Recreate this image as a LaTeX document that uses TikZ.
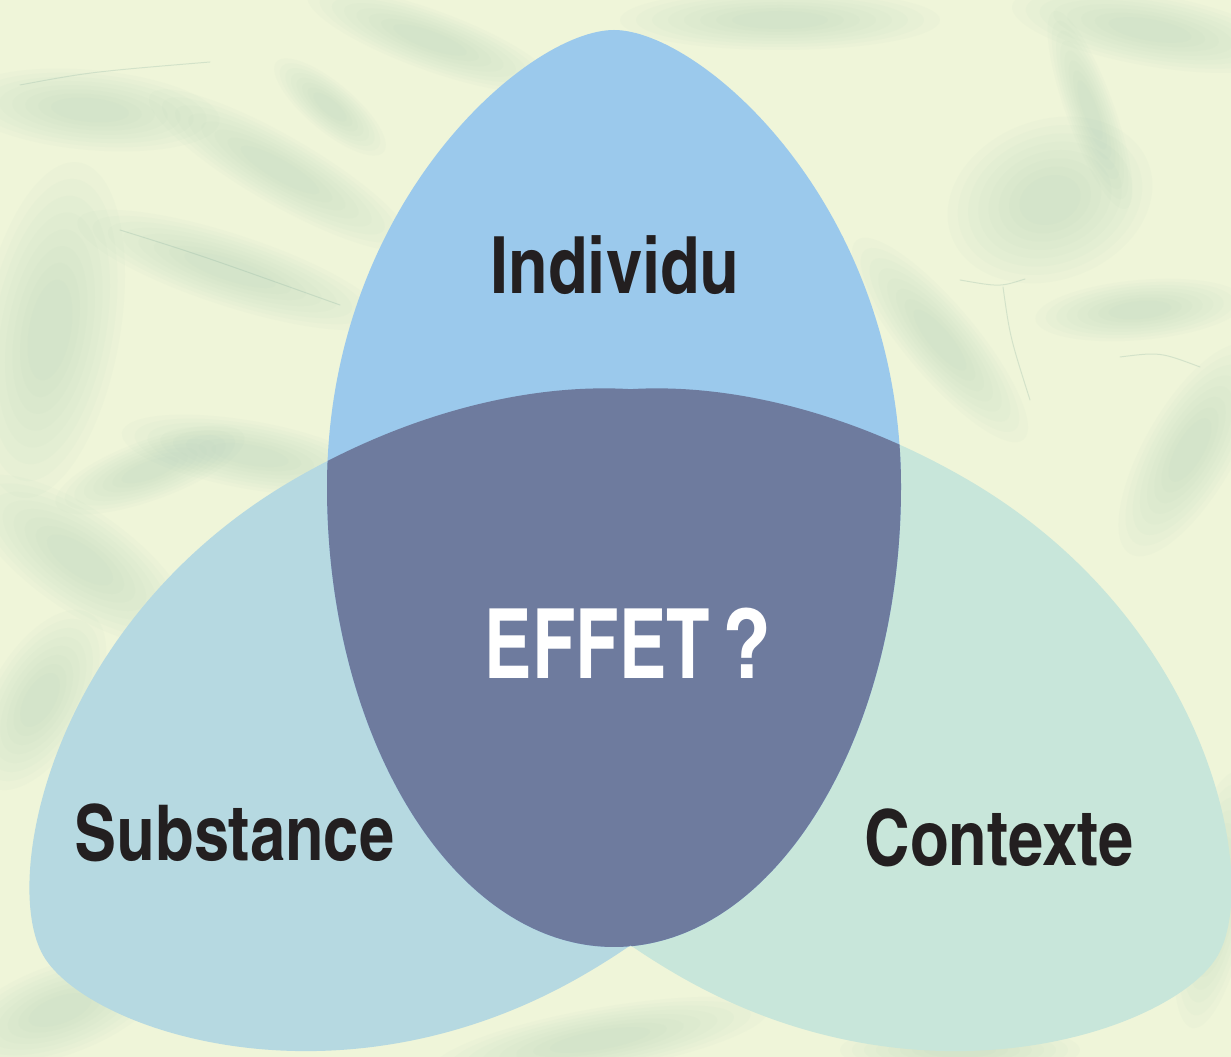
\documentclass[tikz,border=0pt]{standalone}
\usepackage{graphicx}
\usepackage{fontspec}
\setmainfont{texgyreheroscn}[Extension=.otf, UprightFont=*-regular, BoldFont=*-bold]
\definecolor{paper}{HTML}{EFF5D9}
\definecolor{crease}{HTML}{A9CBB8}
\definecolor{creaseline}{HTML}{8DB3A2}
\definecolor{topcol}{HTML}{9BC9EC}
\definecolor{leftcol}{HTML}{B6D9E1}
\definecolor{rightcol}{HTML}{C8E6DA}
\definecolor{midcol}{HTML}{6E7B9E}
\definecolor{inkcol}{HTML}{231F20}
\tikzset{
  lbl/.style={inner sep=0pt, anchor=base, text=inkcol, font=\bfseries\fontsize{79}{79}\selectfont},
  foldline/.style={draw=creaseline, line width=1pt, draw opacity=0.28, line cap=round}
}
\newcommand\softblob[5]{%
  \begin{scope}[shift={(#1,#2)}, rotate=#3]
    \foreach \s in {1,0.9,0.8,0.7,0.6,0.5,0.4,0.3}{\fill[crease, fill opacity=0.05] (0,0) ellipse ({#4*\s} and {#5*\s});}
  \end{scope}}
\def\eggpath{(287,0) .. controls (287,-254) and (158.5,-460) .. (0,-460) .. controls (-158.5,-460) and (-287,-254) .. (-287,0) .. controls (-287,283) and (-86,457) .. (0,457) .. controls (86,457) and (287,283) .. (287,0) -- cycle}
\begin{document}
\begin{tikzpicture}[x=1pt,y=1pt]
\useasboundingbox (0,0) rectangle (1231,1057);
\fill[paper] (0,0) rectangle (1231,1057);
% crumpled paper texture
\softblob{280}{887}{-30}{150}{34}
\softblob{230}{787}{-18}{160}{36}
\softblob{50}{727}{80}{170}{70}
\softblob{90}{947}{-5}{130}{40}
\softblob{250}{602}{-10}{130}{34}
\softblob{80}{497}{-35}{130}{50}
\softblob{150}{587}{20}{100}{30}
\softblob{40}{357}{60}{100}{50}
\softblob{60}{47}{20}{110}{45}
\softblob{1050}{857}{20}{105}{80}
\softblob{1150}{1027}{-10}{140}{36}
\softblob{1090}{947}{-70}{105}{24}
\softblob{940}{717}{-50}{130}{36}
\softblob{1140}{747}{5}{105}{30}
\softblob{1190}{607}{60}{120}{45}
\softblob{1215}{157}{80}{130}{35}
\softblob{600}{17}{10}{170}{32}
\softblob{780}{1037}{0}{160}{30}
\softblob{430}{1017}{-20}{130}{30}
\softblob{960}{7}{0}{120}{26}
\softblob{330}{950}{-40}{70}{24}
\draw[foldline] (20,972) .. controls (90,985) .. (210,995);
\draw[foldline] (120,827) .. controls (200,802) .. (340,752);
\draw[foldline] (960,777) .. controls (1000,770) .. (1025,778);
\draw[foldline] (1003,770) .. controls (1010,720) .. (1030,657);
\draw[foldline] (1120,700) .. controls (1160,705) .. (1200,690);
% eggs
\fill[leftcol, shift={(439,330)}, rotate=120] \eggpath;
\fill[rightcol, shift={(822,330)}, rotate=-120] \eggpath;
\fill[topcol, shift={(614,570)}] \eggpath;
\begin{scope}
  \clip[shift={(614,570)}] \eggpath;
  \fill[midcol, shift={(439,330)}, rotate=120] \eggpath;
  \fill[midcol, shift={(822,330)}, rotate=-120] \eggpath;
\end{scope}
% labels
\node[lbl] (individu) at (615,763) {Individu};
\node[lbl, font=\bfseries\fontsize{77}{77}\selectfont] (substance) at (234.5,196) {Substance};
\node[lbl, font=\bfseries\fontsize{77}{77}\selectfont] (contexte) at (999,191) {Contexte};
\node[lbl, text=white, font=\bfseries\fontsize{97}{97}\selectfont] (effet) at (628,378) {\scalebox{0.895}[1]{EFFET}\kern12pt ?};
\end{tikzpicture}
\end{document}
